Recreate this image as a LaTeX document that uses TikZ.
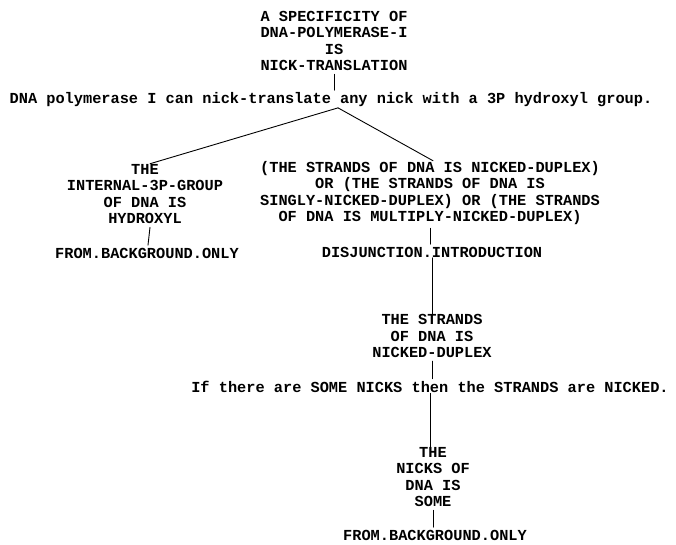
\documentclass[tikz,border=0pt]{standalone}
\usepackage{fontspec}
\setmonofont{Liberation Mono}
\begin{document}
\begin{tikzpicture}[x=1pt,y=-1pt,line cap=round,
  goal/.style={font=\ttfamily\bfseries\fontsize{15.3}{16.3}\selectfont,align=center,inner sep=0.5pt},
  link/.style={line width=0.9pt}]
  \useasboundingbox (0,0) rectangle (676,544);
  \node[goal] (spec) at (334,41) {A SPECIFICITY OF\\DNA-POLYMERASE-I\\IS\\NICK-TRANSLATION};
  \node[goal] (rule1) at (331,100) {DNA polymerase I can nick-translate any nick with a 3P hydroxyl group.};
  \node[goal] (hydroxyl) at (145,194) {THE\\INTERNAL-3P-GROUP\\OF DNA IS\\HYDROXYL};
  \node[goal] (bgone) at (147,253) {FROM.BACKGROUND.ONLY};
  \node[goal] (disj) at (430,193) {(THE STRANDS OF DNA IS NICKED-DUPLEX)\\OR (THE STRANDS OF DNA IS\\SINGLY-NICKED-DUPLEX) OR (THE STRANDS\\OF DNA IS MULTIPLY-NICKED-DUPLEX)};
  \node[goal] (disjrule) at (432,252) {DISJUNCTION.INTRODUCTION};
  \node[goal] (strands) at (432,336) {THE STRANDS\\OF DNA IS\\NICKED-DUPLEX};
  \node[goal] (nickrule) at (430,387) {If there are SOME NICKS then the STRANDS are NICKED.};
  \node[goal] (nicks) at (433,477) {THE\\NICKS OF\\DNA IS\\SOME};
  \node[goal] (bgtwo) at (435,535) {FROM.BACKGROUND.ONLY};
  \coordinate (fork) at ([xshift=7pt]rule1.south);
  \draw[link] ([yshift=-3pt]spec.south) -- ([yshift=2pt]spec.south |- rule1.north);
  \draw[link] (fork) -- ([xshift=5pt]hydroxyl.north);
  \draw[link] (fork) -- ([xshift=3pt]disj.north);
  \draw[link] ([xshift=5pt,yshift=-3pt]hydroxyl.south) -- ([xshift=3pt,yshift=2pt]hydroxyl.south |- bgone.north);
  \draw[link] ([yshift=-3pt]disj.south) -- ([yshift=2pt]disj.south |- disjrule.north);
  \draw[link] (disjrule.south) -- (disjrule.south |- strands.north);
  \draw[link] ([yshift=-3pt]strands.south) -- ([yshift=2pt]strands.south |- nickrule.north);
  \draw[link] (nickrule.south) -- (nickrule.south |- nicks.north);
  \draw[link] ([yshift=-3pt]nicks.south) -- ([yshift=2pt]nicks.south |- bgtwo.north);
\end{tikzpicture}
\end{document}
